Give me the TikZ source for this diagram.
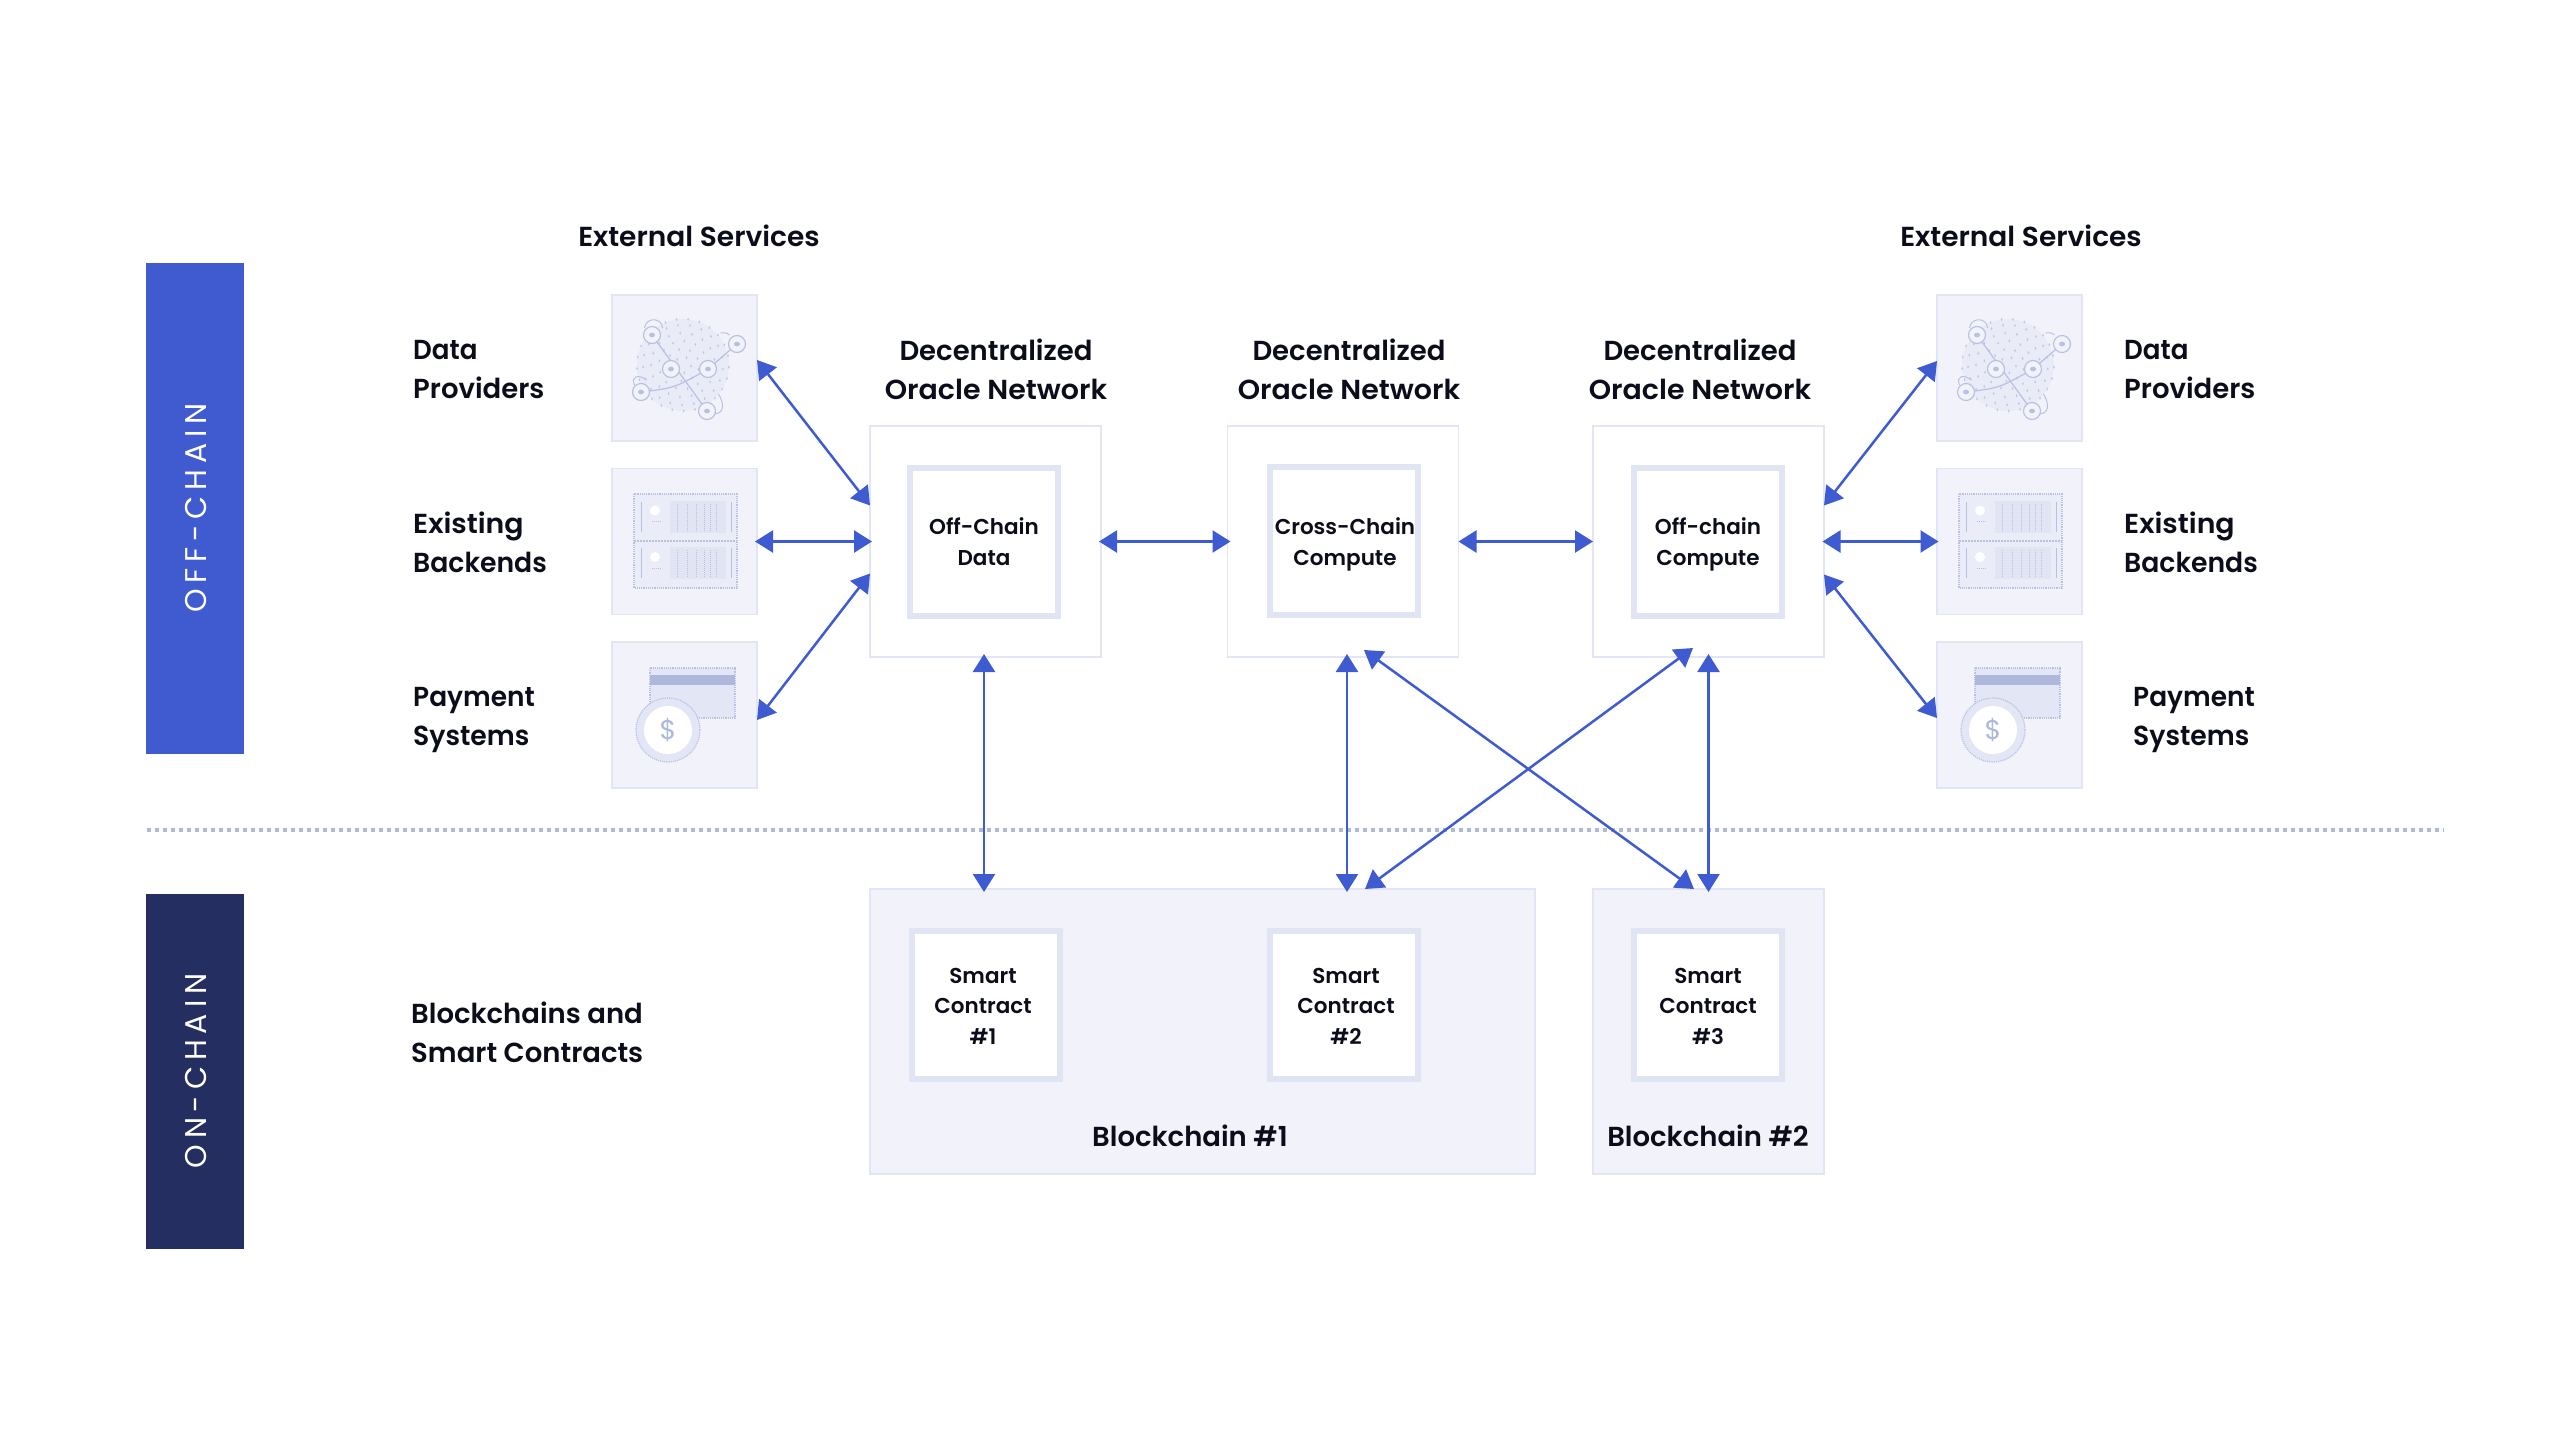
\documentclass[tikz,border=0pt]{standalone}
\usepackage{fontspec}
\setmainfont{Poppins SemiBold}
\newfontfamily\lightfont[LetterSpace=19.5]{Poppins}
\newfontfamily\plainfont{Poppins}
\usetikzlibrary{arrows.meta,calc}
\newcommand{\wdscale}[2]{\scalebox{#1}[1]{#2}}
\definecolor{arrowblue}{HTML}{3F5BD2}
\definecolor{offbar}{HTML}{405AD0}
\definecolor{onbar}{HTML}{252E60}
\definecolor{dotline}{HTML}{AEB8DC}
\definecolor{boxfill}{HTML}{F2F3FA}
\definecolor{boxline}{HTML}{E1E5F6}
\definecolor{innerline}{HTML}{E0E4F3}
\definecolor{ink}{HTML}{0B0D1A}
\definecolor{iconline}{HTML}{B8C1E3}
\definecolor{iconfill}{HTML}{E3E6F4}
\tikzset{
  x=1pt,y=-1pt,
  softbox/.style={draw=boxline,line width=1.5pt,fill=boxfill,inner sep=0pt,outer sep=0pt},
  whitebox/.style={draw=boxline,line width=1.5pt,fill=white,inner sep=0pt,outer sep=0pt,minimum width=231pt,minimum height=231pt},
  corebox/.style={draw=innerline,line width=6pt,fill=white,inner sep=0pt,outer sep=0pt,minimum width=148pt,minimum height=148pt},
  coretext/.style={text=ink,align=center,inner sep=0pt,font=\fontsize{21.5}{30.5}\selectfont},
  iconbox/.style={softbox,minimum width=145pt,minimum height=146pt},
  barbox/.style={inner sep=0pt,outer sep=0pt,minimum width=98pt},
  bartext/.style={text=white,rotate=90,inner sep=0pt,font=\fontsize{30}{36}\lightfont},
  heading/.style={text=ink,align=center,inner sep=0pt,font=\fontsize{27.5}{39}\selectfont},
  sidelabel/.style={text=ink,align=left,anchor=west,inner sep=0pt,font=\fontsize{27.5}{39}\selectfont},
  link/.style={draw=arrowblue,line width=2.5pt,{Triangle[length=18pt,width=22pt]}-{Triangle[length=18pt,width=22pt]}},
  globeicon/.pic={
    \fill[iconfill!60!boxfill] (-1.5,-3) circle (46);
    \foreach \r/\n in {8/5,16/9,24/13,32/17,40/21,46/25}{
      \foreach \k in {1,...,\n}{
        \fill[iconline!85!boxfill] ({-1.5+\r*cos(360*\k/\n+\r)},{-3+\r*sin(360*\k/\n+\r)}) ellipse (0.9 and 1.6);
      }
    }
    \draw[iconline,line width=1.2pt] (-32.5,-33) -- (22.5,43);
    \draw[iconline,line width=1.2pt] (-43.5,24) .. controls (-10,20) .. (23.5,1) -- (52.5,-24);
    \draw[iconline,line width=1pt] (-40,-40) .. controls (-38,-52) and (-22,-50) .. (-22,-40);
    \draw[iconline,line width=1pt] (-50,17) .. controls (-54,8) and (-46,6) .. (-38,12);
    \draw[iconline,line width=1pt] (29,46) .. controls (40,46) and (40,36) .. (34,26);
    \draw[iconline,line width=1pt] (45,-33) .. controls (42,-36) and (39,-35) .. (36,-35);
    \foreach \p in {(-32.5,-33),(-13.5,1),(23.5,1),(52.5,-24),(-43.5,24),(22.5,43)}{
      \draw[iconline,line width=1.2pt,fill=boxfill] \p circle (8.5);
      \fill[iconline] \p ellipse (3 and 2.4);
    }
  },
  servericon/.pic={
    \draw[iconline,line width=1.2pt,densely dotted,fill=iconfill!55!boxfill] (-50.5,-47.5) rectangle (52.5,46.5);
    \draw[iconline,line width=2pt,densely dotted] (-50.5,-0.5) -- (52.5,-0.5);
    \foreach \dy in {0,46.5}{
      \begin{scope}[yshift=-\dy pt]
      \fill[innerline] (-14.5,-41) rectangle (41,-9);
      \fill[white] (-29.5,-31) circle (5);
      \foreach \vx in {-7,3,12,20,26,32}{
        \draw[iconline,line width=1pt,densely dotted] (\vx,-38) -- (\vx,-11);
      }
      \draw[iconline,line width=1pt] (46.5,-40) -- (46.5,-10);
      \draw[iconline,line width=1pt] (-43.5,-40) -- (-43.5,-10);
      \draw[iconline,line width=1pt,densely dotted] (-33,-20) -- (-24,-20);
      \end{scope}
    }
  },
  cardicon/.pic={
    \draw[iconline,line width=1.2pt,densely dotted,fill=iconfill] (-34.5,-47) rectangle (50.5,3);
    \fill[dotline] (-34.5,-40) rectangle (50.5,-30);
    \draw[iconline,line width=1.2pt,densely dotted,fill=iconfill] (-16.5,15) circle (32);
    \fill[white] (-16.5,15) circle (24);
    \node[text=dotline,inner sep=0pt,font=\fontsize{27}{27}\plainfont] at (-16.5,15) {\$};
  }
}
\begin{document}
\begin{tikzpicture}
\useasboundingbox (0,0) rectangle (2560,1440);
\fill[white] (0,0) rectangle (2560,1440);

% side bars
\node[barbox,fill=offbar,minimum height=491pt] (offbar) at (194.5,508.5) {};
\node[bartext] (offtxt) at (196,508) {OFF-CHAIN};
\node[barbox,fill=onbar,minimum height=355pt] (onbar) at (194.5,1071.5) {};
\node[bartext] (ontxt) at (196,1071) {ON-CHAIN};

% separator
\coordinate (sepL) at (147,830);
\coordinate (sepR) at (2444,830);
\draw[dotline,line width=4pt,dash pattern=on 4pt off 4pt] (sepL) -- (sepR);

% headings
\node[heading] (extL) at (699,236) {\wdscale{1.02}{External Services}};
\node[heading] (extR) at (2021,236) {\wdscale{1.02}{External Services}};
\node[heading] (donA) at (996,369.5) {Decentralized\\\wdscale{1.035}{Oracle Network}};
\node[heading] (donB) at (1349,369.5) {Decentralized\\\wdscale{1.035}{Oracle Network}};
\node[heading] (donC) at (1700,369.5) {Decentralized\\\wdscale{1.035}{Oracle Network}};

% side labels
\node[sidelabel] (lblDataL) at (413,369.5) {\wdscale{.95}{Data}\\Providers};
\node[sidelabel] (lblBackL) at (413,542.5) {\wdscale{1.03}{Existing}\\\wdscale{.97}{Backends}};
\node[sidelabel] (lblPayL) at (413,720) {\wdscale{.96}{Payment}\\\wdscale{.97}{Systems}};
\node[sidelabel] (lblDataR) at (2124,369.5) {\wdscale{.95}{Data}\\Providers};
\node[sidelabel] (lblBackR) at (2124,542.5) {\wdscale{1.03}{Existing}\\\wdscale{.97}{Backends}};
\node[sidelabel] (lblPayR) at (2133,720) {\wdscale{.96}{Payment}\\\wdscale{.97}{Systems}};
\node[sidelabel] (lblChain) at (411,1032.5) {Blockchains and\\Smart Contracts};

% external service boxes
\node[iconbox] (dataL) at (684.5,368) {};
\node[iconbox] (backL) at (684.5,541.5) {};
\node[iconbox] (payL) at (684.5,715) {};
\node[iconbox] (dataR) at (2009.5,368) {};
\node[iconbox] (backR) at (2009.5,541.5) {};
\node[iconbox] (payR) at (2009.5,715) {};
\pic at (dataL.center) {globeicon};
\pic at (backL.center) {servericon};
\pic at (payL.center) {cardicon};
\pic at (dataR.center) {globeicon};
\pic at (backR.center) {servericon};
\pic at (payR.center) {cardicon};

% oracle networks
\node[whitebox] (netA) at (985.5,541.5) {};
\node[whitebox] (netB) at (1343,541.5) {};
\node[whitebox] (netC) at (1708.5,541.5) {};
\node[corebox] (coreA) at (984,541.5) {};
\node[corebox] (coreB) at (1344,541) {};
\node[corebox] (coreC) at (1708,541.5) {};
\node[coretext] (txtA) at (984,544.5) {Off-Chain\\Data\vphantom{p}};
\node[coretext] (txtB) at (1345,544.5) {Cross-Chain\\Compute};
\node[coretext] (txtC) at (1708,544.5) {Off-chain\\Compute};

% chains
\node[softbox,minimum width=665pt,minimum height=285pt] (chainA) at (1202.5,1031.5) {};
\node[softbox,minimum width=231pt,minimum height=285pt] (chainB) at (1708.5,1031.5) {};
\node[corebox] (scA) at (986,1005) {};
\node[corebox] (scB) at (1343.5,1005) {};
\node[corebox] (scC) at (1708,1005) {};
\node[coretext] (ctA) at (983,1006) {Smart\\Contract\\\#1};
\node[coretext] (ctB) at (1346,1006) {Smart\\Contract\\\#2};
\node[coretext] (ctC) at (1708,1006) {Smart\\Contract\\\#3};
\node[heading] (nameA) at (1190,1136) {Blockchain \#1};
\node[heading] (nameB) at (1708,1136) {Blockchain \#2};

% connectors
\draw[link] ([yshift=8pt]dataL.east) -- ([yshift=36pt]netA.west);
\draw[link] ([xshift=-2pt]backL.east) -- ([xshift=2pt]netA.west);
\draw[link] ([yshift=-5pt]payL.east) -- ([yshift=-32pt]netA.west);
\draw[link] ([xshift=-2pt]netA.east) -- ([xshift=3pt]netB.west);
\draw[link] (netB.east) -- (netC.west);
\draw[link] ([xshift=-1.5pt]netC.east) -- ([xshift=1.5pt]backR.west);
\draw[link] ([yshift=36pt]netC.east) -- ([yshift=7pt]dataR.west);
\draw[link] ([yshift=-33pt]netC.east) -- ([yshift=-3pt]payR.west);
\draw[link] ([xshift=-1.5pt,yshift=3pt]netA.south) -- ([xshift=-218.5pt,yshift=-3pt]chainA.north);
\draw[link] ([xshift=4pt,yshift=3pt]netB.south) -- ([xshift=144.5pt,yshift=-3pt]chainA.north);
\draw[link] ([yshift=3pt]netC.south) -- ([yshift=-3pt]chainB.north);
\draw[link] ([xshift=21pt,yshift=7pt]netB.south) -- ([xshift=-14.5pt]chainB.north);
\draw[link] ([xshift=-15.5pt,yshift=9pt]netC.south) -- ([xshift=162.5pt]chainA.north);
\end{tikzpicture}
\end{document}
